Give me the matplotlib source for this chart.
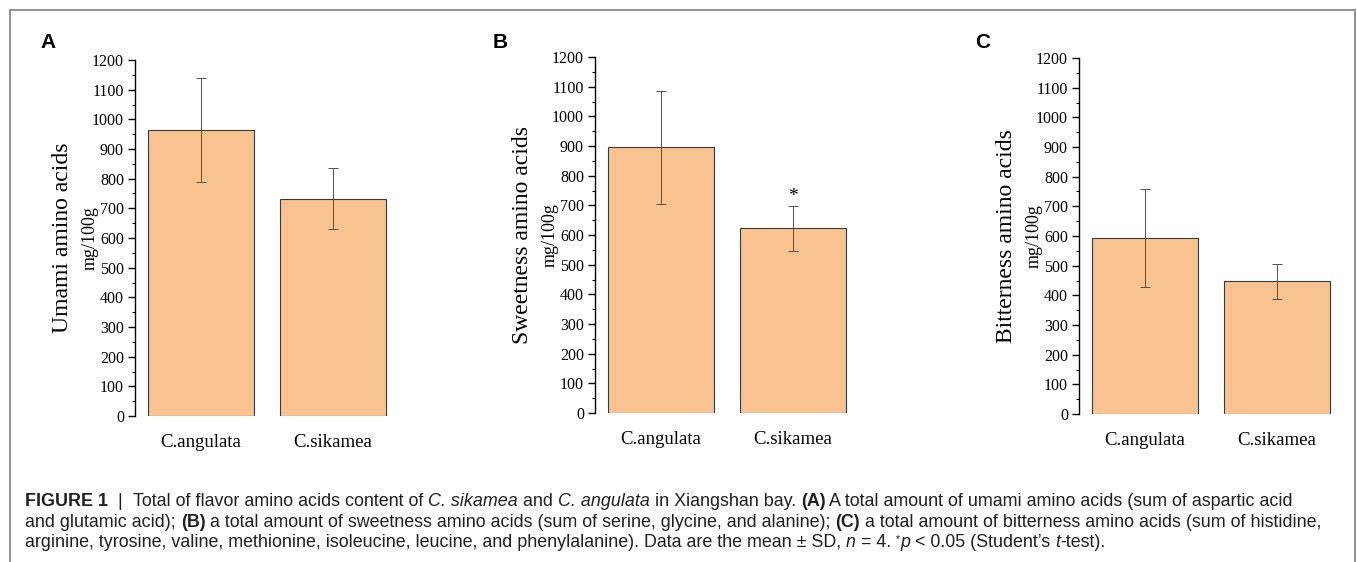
import matplotlib
matplotlib.use('Agg')
from matplotlib import pyplot as plt
from matplotlib.lines import Line2D
from matplotlib.ticker import MultipleLocator

# datos
categorias = ['C.angulata', 'C.sikamea']
umami = [964, 733]
umami_sd = [174, 103]
dulce = [895, 623]
dulce_sd = [190, 76]
amargo = [593, 447]
amargo_sd = [164, 58]

W, H = 1357, 562
fig = plt.figure(figsize=(W / 100, H / 100), dpi=100)

serif = ['Liberation Serif', 'DejaVu Serif']
sans = ['Liberation Sans', 'DejaVu Sans']
color_barra = '#f8c391'

paneles = [
    # (x spine, y top, y cero, valores, sd, titulo, letra, x letra, y letra)
    (135, 60, 416, umami, umami_sd, 'Umami amino acids', 'A', 40, 43),
    (595, 57, 413, dulce, dulce_sd, 'Sweetness amino acids', 'B', 493, 42),
    (1079, 58, 414, amargo, amargo_sd, 'Bitterness amino acids', 'C', 975, 43),
]

ejes = []
for x0, ytop, ycero, vals, sd, titulo, letra, lx, ly in paneles:
    ax = fig.add_axes([x0 / W, 1 - ycero / H, 264 / W, (ycero - ytop) / H])
    ax.bar(range(2), vals, width=0.8, color=color_barra, edgecolor='#3a3a3a', linewidth=0.8)
    ax.errorbar(range(2), vals, yerr=sd, fmt='none', ecolor='#505050',
                elinewidth=0.7, capsize=3.5, capthick=0.7)
    ax.set_xlim(-0.5, 1.5)
    ax.set_ylim(0, 1200)
    ax.yaxis.set_major_locator(MultipleLocator(100))
    ax.yaxis.set_minor_locator(MultipleLocator(50))
    for s in ['top', 'right', 'bottom']:
        ax.spines[s].set_visible(False)
    ax.spines['left'].set_linewidth(1.0)
    ax.tick_params(axis='y', which='major', length=5, width=1.0, pad=3, labelsize=11.5)
    ax.tick_params(axis='y', which='minor', length=2.5, width=0.8)
    ax.tick_params(axis='x', length=0, pad=13, labelsize=13.5)
    ax.set_xticks(range(2))
    ax.set_xticklabels(categorias)
    for lab in ax.get_xticklabels() + ax.get_yticklabels():
        lab.set_family(serif)
    ax.set_facecolor('none')
    ax.text(-73 / 264, 0.5, titulo, transform=ax.transAxes, rotation=90,
            ha='center', va='center', fontsize=17, family=serif)
    ax.text(-45 / 264, 0.5, 'mg/100g', transform=ax.transAxes, rotation=90,
            ha='center', va='center', fontsize=13, family=serif)
    fig.text(lx / W, 1 - ly / H, letra, fontsize=15, fontweight='bold',
             family=sans, ha='left', va='center')
    ejes.append(ax)

# asterisco en B
ejes[1].text(1, dulce[1] + dulce_sd[1] + 2, '*', ha='center', va='bottom',
             fontsize=14, family=serif)

# marco
gris = '#8a8a8a'
fig.add_artist(Line2D([9.5 / W, 9.5 / W], [0, 1 - 10 / H], color=gris, lw=1.3))
fig.add_artist(Line2D([9.5 / W, 1355 / W], [1 - 10 / H, 1 - 10 / H], color=gris, lw=1.3))
fig.add_artist(Line2D([1355 / W, 1355 / W], [0, 1 - 10 / H], color=gris, lw=1.3))

# leyenda de la figura, por trozos
N, B, I = 'normal', 'bold', 'italic'
lineas = [
    [('FIGURE 1', B), ('  |  ', N), ('Total of flavor amino acids content of ', N),
     ('C. sikamea', I), (' and ', N), ('C. angulata', I), (' in Xiangshan bay. ', N),
     ('(A)', B), (' A total amount of umami amino acids (sum of aspartic acid', N)],
    [('and glutamic acid); ', N), ('(B)', B),
     (' a total amount of sweetness amino acids (sum of serine, glycine, and alanine); ', N),
     ('(C)', B), (' a total amount of bitterness amino acids (sum of histidine,', N)],
    [('arginine, tyrosine, valine, methionine, isoleucine, leucine, and phenylalanine). '
      'Data are the mean \u00b1 SD, ', N), ('n', I), (' = 4. ', N), ('*', 'sup'), ('p', I),
     (' < 0.05 (Student\u2019s ', N), ('t', I), ('-test).', N)],
]
ys = [506, 527, 547]
tam = 12.9
color_txt = '#231f20'
renderer = fig.canvas.get_renderer()
for linea, y in zip(lineas, ys):
    x = 25
    for txt, estilo in linea:
        kw = dict(fontsize=tam, family=sans, color=color_txt, va='baseline', ha='left')
        yy = y
        if estilo == B:
            kw['fontweight'] = 'bold'
        elif estilo == I:
            kw['style'] = 'italic'
        elif estilo == 'sup':
            kw['fontsize'] = tam * 0.6
            yy = y - 5
        t = fig.text(x / W, 1 - yy / H, txt, **kw)
        x += t.get_window_extent(renderer).width

fig.savefig('out.png', dpi=100)
